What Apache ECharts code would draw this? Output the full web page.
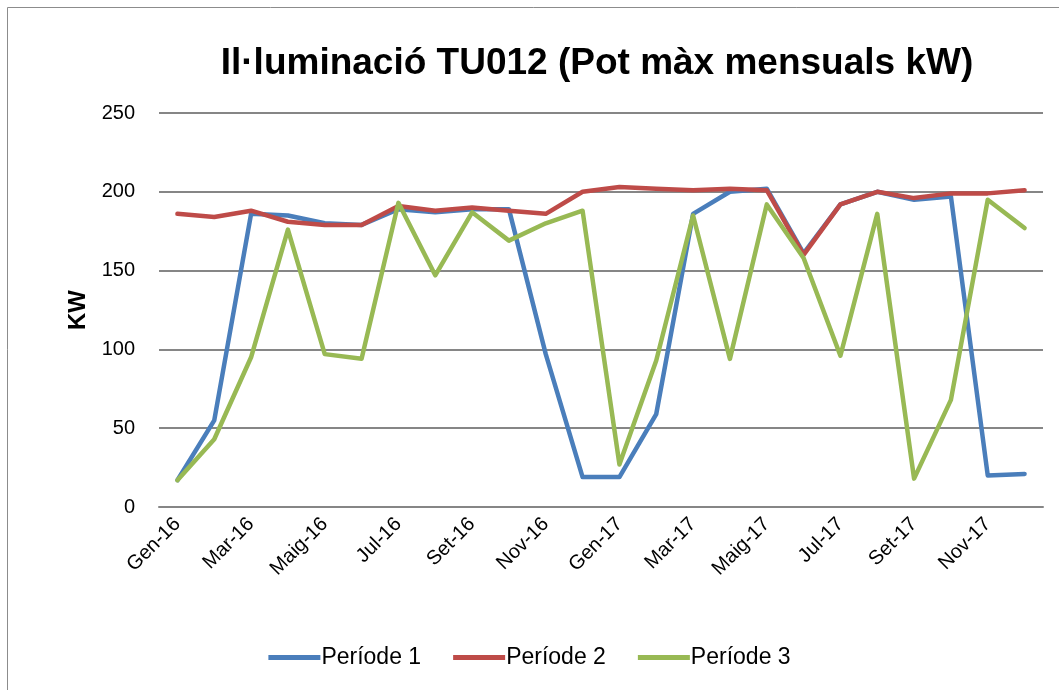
<!DOCTYPE html>
<html>
<head>
<meta charset="utf-8">
<script src="https://cdn.jsdelivr.net/npm/echarts@6/dist/echarts.min.js"></script>
<style>
  html, body { margin: 0; padding: 0; background: #fff; }
  #chart { width: 1059px; height: 690px; }
</style>
</head>
<body>
<div id="chart"></div>
<script>
var months = ['Gen-16', 'Feb-16', 'Mar-16', 'Abr-16', 'Maig-16', 'Jun-16', 'Jul-16', 'Ag-16',
  'Set-16', 'Oct-16', 'Nov-16', 'Des-16', 'Gen-17', 'Feb-17', 'Mar-17', 'Abr-17',
  'Maig-17', 'Jun-17', 'Jul-17', 'Ag-17', 'Set-17', 'Oct-17', 'Nov-17', 'Des-17'];

var periode1 = [17, 55, 186, 185, 180, 179, 189, 187, 189, 189, 97, 19, 19, 59, 186, 200, 202, 161, 192, 200, 195, 197, 20, 21];
var periode2 = [186, 184, 188, 181, 179, 179, 191, 188, 190, 188, 186, 200, 203, 202, 201, 202, 201, 160, 192, 200, 196, 199, 199, 201];
var periode3 = [17, 43, 95, 176, 97, 94, 193, 147, 187, 169, 180, 188, 27, 93, 185, 94, 192, 158, 96, 186, 18, 68, 195, 177];

var chartDom = document.getElementById('chart');
var myChart = echarts.init(chartDom);

function line(name, data, color) {
  return {
    name: name,
    type: 'line',
    data: data,
    symbol: 'none',
    lineStyle: { width: 4.5, color: color, cap: 'round', join: 'round' },
    itemStyle: { color: color }
  };
}

var option = {
  backgroundColor: '#fff',
  animation: false,
  graphic: [{
    type: 'rect',
    shape: { x: 7.5, y: 7.5, width: 1070, height: 700 },
    style: { fill: 'none', stroke: '#8c8c8c', lineWidth: 1 }
  }],
  title: {
    text: 'Il·luminació TU012 (Pot màx mensuals kW)',
    left: 592,
    top: 40,
    textAlign: 'center',
    textStyle: { fontFamily: 'Liberation Sans', fontWeight: 'bold', fontSize: 37, color: '#000' }
  },
  legend: {
    bottom: 16,
    left: 'center',
    itemWidth: 52,
    itemHeight: 5,
    itemGap: 32,
    icon: 'rect',
    textStyle: { fontFamily: 'Liberation Sans', fontSize: 23, color: '#000', padding: [0, 0, 0, -4] },
    data: ['Període 1', 'Període 2', 'Període 3']
  },
  grid: { left: 159, right: 16, top: 113, bottom: 183 },
  xAxis: {
    type: 'category',
    data: months,
    boundaryGap: true,
    axisLine: { lineStyle: { color: '#868686', width: 2 } },
    axisTick: { show: false },
    axisLabel: {
      interval: 1,
      rotate: 45,
      margin: 14,
      fontFamily: 'Liberation Sans',
      fontSize: 20,
      color: '#000'
    }
  },
  yAxis: {
    type: 'value',
    min: 0,
    max: 250,
    interval: 50,
    name: 'KW',
    nameLocation: 'middle',
    nameGap: 50,
    nameRotate: 90,
    nameTextStyle: { fontFamily: 'Liberation Sans', fontWeight: 'bold', fontSize: 24, color: '#000' },
    axisLine: { show: false },
    axisTick: { show: false },
    axisLabel: { fontFamily: 'Liberation Sans', fontSize: 20, color: '#000', margin: 24 },
    splitLine: { lineStyle: { color: '#868686', width: 2 } }
  },
  series: [
    line('Període 1', periode1, '#4A7EBB'),
    line('Període 2', periode2, '#BE4B48'),
    line('Període 3', periode3, '#98B954')
  ]
};

option && myChart.setOption(option);
</script>
</body>
</html>
